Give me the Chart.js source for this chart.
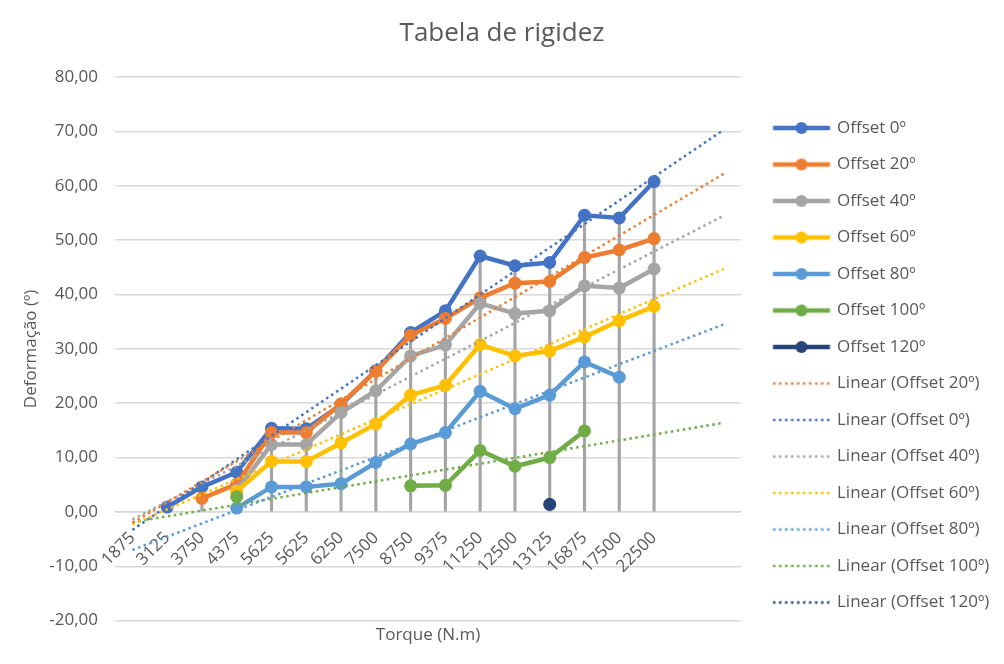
<!DOCTYPE html>
<html lang="pt">
<head>
    <meta charset="UTF-8">
    <title>Tabela de rigidez</title>
    <script src="https://cdn.jsdelivr.net/npm/chart.js"></script>
    <style>
        html, body { margin: 0; padding: 0; background: #fff; }
        #wrap { width: 1004px; height: 664px; }
    </style>
</head>
<body>
<div id="wrap"><canvas id="graph"></canvas></div>
<script>
    // categorias do eixo x (as duas ultimas vazias = previsao da linha de tendencia)
    const torque = ['1875', '3125', '3750', '4375', '5625', '5625', '6250', '7500', '8750',
        '9375', '11250', '12500', '13125', '16875', '17500', '22500', '', ''];

    const offset0 = [null, 0.9, 4.6, 7.3, 15.4, 15.3, 19.7, 26.0, 33.0, 37.0, 47.1, 45.3, 45.9, 54.6, 54.1, 60.8, null, null];
    const offset20 = [null, null, 2.5, 5.1, 14.6, 14.6, 19.9, 25.9, 32.5, 35.6, 39.4, 42.1, 42.4, 46.8, 48.2, 50.3, null, null];
    const offset40 = [null, null, null, 4.0, 12.4, 12.4, 18.3, 22.3, 28.7, 30.7, 38.4, 36.5, 37.0, 41.6, 41.2, 44.7, null, null];
    const offset60 = [null, null, null, 3.8, 9.3, 9.3, 12.7, 16.2, 21.5, 23.3, 30.8, 28.7, 29.6, 32.2, 35.2, 37.8, null, null];
    const offset80 = [null, null, null, 0.7, 4.6, 4.6, 5.2, 9.1, 12.5, 14.6, 22.2, 19.0, 21.5, 27.6, 24.8, null, null, null];
    const offset100 = [null, null, null, 2.8, null, null, null, null, 4.8, 4.9, 11.3, 8.4, 10.0, 14.9, null, null, null, null];
    const offset120 = [null, null, null, null, null, null, null, null, null, null, null, null, 1.4, null, null, null, null, null];

    // linhas de tendencia: valor no inicio (1875) e no fim (+2 periodos)
    const trend20 = [-2.0, 62.2];
    const trend0 = [-3.3, 70.3];
    const trend40 = [-1.4, 54.5];
    const trend60 = [-2.3, 44.7];
    const trend80 = [-7.0, 34.5];
    const trend100 = [-1.9, 16.4];
    const trend120 = [];

    const yTicks = [-20, -10, 0, 10, 20, 30, 40, 50, 60, 70, 80];

    const txt = '#595959';
    const fontFam = '"Open Sans", "DejaVu Sans", sans-serif';
    const BOX = 68;
    const LEGEND_W = 263;

    function icon(color, dotted, marker) {
        const c = document.createElement('canvas');
        c.width = 140;
        c.height = 16;
        const g = c.getContext('2d');
        const a = 14.5 + BOX / 2, b = 71.5 + BOX / 2;
        g.strokeStyle = color;
        if (dotted) {
            g.lineWidth = 2.5;
            g.setLineDash([2.5, 3.5]);
        } else {
            g.lineWidth = 4.5;
        }
        g.beginPath();
        g.moveTo(a, 8);
        g.lineTo(b, 8);
        g.stroke();
        if (marker) {
            g.fillStyle = color;
            g.beginPath();
            g.arc((a + b) / 2, 8, 6, 0, Math.PI * 2);
            g.fill();
        }
        return c;
    }

    function trendData(t) {
        const d = torque.map(() => null);
        if (t.length) {
            d[0] = t[0];
            d[d.length - 1] = t[1];
        }
        return d;
    }

    function serie(label, data, color, order) {
        return {
            type: 'line', label: label, data: data,
            borderColor: color, backgroundColor: color,
            borderWidth: 4.5, pointRadius: 6.5, pointHoverRadius: 6.5,
            pointBorderWidth: 0, pointBackgroundColor: color,
            spanGaps: false, order: order, icon: icon(color, false, true)
        };
    }

    function tendencia(label, t, color) {
        return {
            type: 'line', label: label, data: trendData(t),
            borderColor: color, borderWidth: 2.5, borderDash: [2.5, 3.5],
            pointRadius: 0, spanGaps: true, order: 0, icon: icon(color, true, false)
        };
    }

    const series = [offset0, offset20, offset40, offset60, offset80, offset100, offset120];
    // linhas de projecao: do eixo ate o ponto mais alto de cada categoria
    const drop = torque.map((c, i) => {
        const vals = series.map(s => s[i]).filter(v => v !== null);
        return vals.length ? [0, Math.max(...vals)] : null;
    });

    const datasets = [
        serie('Offset 0º', offset0, '#4472C4', 7),
        serie('Offset 20º', offset20, '#ED7D31', 6),
        serie('Offset 40º', offset40, '#A5A5A5', 5),
        serie('Offset 60º', offset60, '#FFC000', 4),
        serie('Offset 80º', offset80, '#5B9BD5', 3),
        serie('Offset 100º', offset100, '#70AD47', 2),
        serie('Offset 120º', offset120, '#264478', 1),
        tendencia('Linear (Offset 20º)', trend20, '#ED7D31'),
        tendencia('Linear (Offset 0º)', trend0, '#4472C4'),
        tendencia('Linear (Offset 40º)', trend40, '#A5A5A5'),
        tendencia('Linear (Offset 60º)', trend60, '#FFC000'),
        tendencia('Linear (Offset 80º)', trend80, '#5B9BD5'),
        tendencia('Linear (Offset 100º)', trend100, '#70AD47'),
        tendencia('Linear (Offset 120º)', trend120, '#264478'),
        {
            type: 'bar', label: 'drop', data: drop,
            backgroundColor: '#A5A5A5', barThickness: 2.5, order: 20
        }
    ];

    // largura fixa da legenda (a medida do texto variava e cortava o ultimo item)
    const legendWidth = {
        id: 'legendWidth',
        beforeUpdate(chart) {
            const lg = chart.legend;
            if (lg && !lg._fixed) {
                const fit = lg.fit.bind(lg);
                lg.fit = function () { fit(); this.width = LEGEND_W; };
                lg._fixed = true;
            }
        }
    };

    function draw() {
        new Chart(document.getElementById('graph'), {
            type: 'line',
            data: { labels: torque, datasets: datasets },
            plugins: [legendWidth],
            options: {
                responsive: true,
                maintainAspectRatio: false,
                animation: false,
                layout: { padding: { left: 0, right: 0, top: 0, bottom: 15 } },
                plugins: {
                    tooltip: { enabled: false },
                    title: {
                        display: true,
                        text: 'Tabela de rigidez',
                        color: txt,
                        font: { family: fontFam, size: 26, weight: 'normal' },
                        padding: { top: 18, bottom: 28 }
                    },
                    legend: {
                        position: 'right',
                        align: 'start',
                        title: { display: true, text: ' ', font: { size: 10, lineHeight: 1 }, padding: { top: 90, bottom: 0 } },
                        labels: {
                            color: txt,
                            font: { family: fontFam, size: 17 },
                            padding: 19.5,
                            usePointStyle: true,
                            pointStyleWidth: BOX,
                            generateLabels: chart => chart.data.datasets
                                .map((ds, i) => ({ text: ds.label, pointStyle: ds.icon, datasetIndex: i, hidden: false, lineWidth: 0, fontColor: txt }))
                                .filter(it => it.pointStyle)
                        }
                    }
                },
                scales: {
                    x: {
                        type: 'category',
                        position: { y: 0 },
                        offset: true,
                        grid: { display: false, drawTicks: false },
                        border: { display: true, color: '#D9D9D9', width: 1.5 },
                        ticks: {
                            color: txt, font: { family: fontFam, size: 17 },
                            autoSkip: false, minRotation: 45, maxRotation: 45, padding: 16
                        },
                        afterFit: axis => { axis.paddingLeft = 0; axis.paddingRight = 0; }
                    },
                    x2: {
                        type: 'category',
                        position: 'bottom',
                        offset: true,
                        grid: { display: false, drawTicks: false },
                        border: { display: false },
                        ticks: { display: false },
                        title: {
                            display: true, text: 'Torque (N.m)', color: txt,
                            font: { family: fontFam, size: 17 }, padding: { top: 4, bottom: 4 }
                        }
                    },
                    y: {
                        min: -20,
                        max: 80,
                        afterBuildTicks: axis => { axis.ticks = yTicks.map(v => ({ value: v })); },
                        afterFit: axis => { axis.width = 115; },
                        grid: { color: '#D9D9D9', lineWidth: 1.5, drawTicks: false },
                        border: { display: false },
                        ticks: {
                            color: txt, font: { family: fontFam, size: 17 }, padding: 17,
                            callback: v => v.toFixed(2).replace('.', ',')
                        },
                        title: {
                            display: true, text: 'Deformação (º)', color: txt,
                            font: { family: fontFam, size: 17 }, padding: { top: 21, bottom: 8 }
                        }
                    }
                }
            }
        });
    }

    Promise.all([
        document.fonts.load('17px "Open Sans"'),
        document.fonts.load('26px "Open Sans"')
    ]).then(draw, draw);
</script>
</body>
</html>
